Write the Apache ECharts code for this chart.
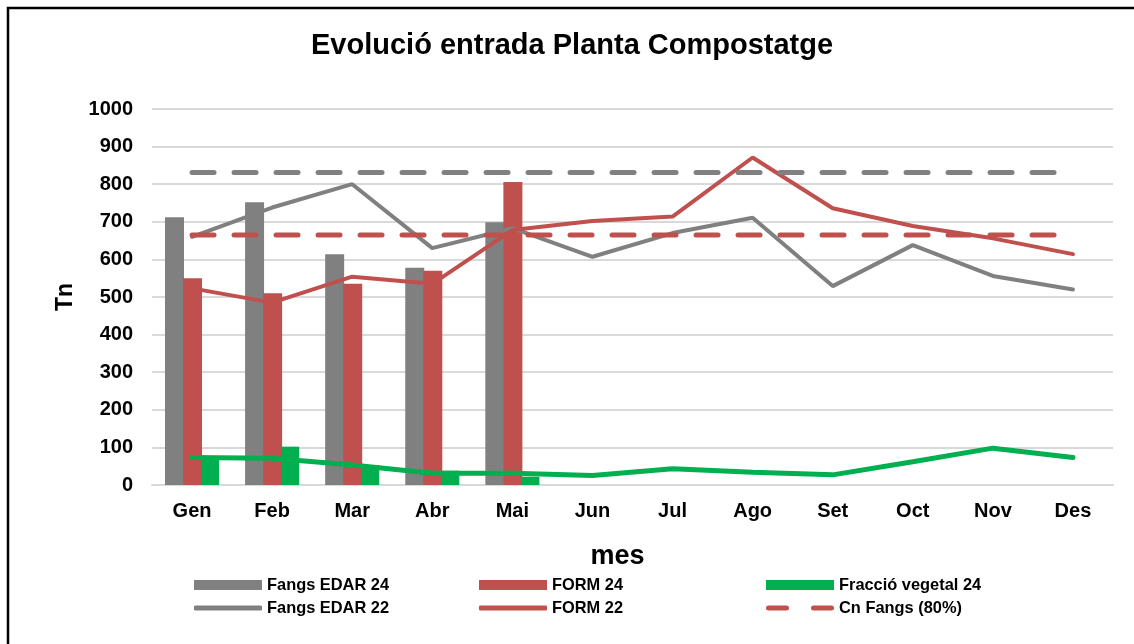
<!DOCTYPE html>
<html>
<head>
<meta charset="utf-8">
<title>Evolució entrada Planta Compostatge</title>
<script src="https://cdn.jsdelivr.net/npm/echarts@6/dist/echarts.min.js"></script>
<style>
    html, body { margin: 0; padding: 0; background: #fff; }
    #chart { width: 1134px; height: 644px; }
</style>
</head>
<body>
<div id="chart"></div>
<script>
    // mesos
    let months = ['Gen', 'Feb', 'Mar', 'Abr', 'Mai', 'Jun', 'Jul', 'Ago', 'Set', 'Oct', 'Nov', 'Des'];
    let yTicks = [0, 100, 200, 300, 400, 500, 600, 700, 800, 900, 1000];

    // 2024 (barres)
    let fangsEdar24 = [712, 752, 614, 578, 699];
    let form24 = [550, 510, 535, 570, 806];
    let fraccioVegetal24 = [70, 102, 53, 38, 22];

    // 2022 (linies)
    let fangsEdar22 = [660, 738, 800, 630, 683, 607, 670, 711, 529, 638, 556, 520];
    let form22 = [523, 485, 554, 535, 678, 702, 714, 871, 736, 689, 656, 614];
    let fraccioVegetal22 = [73, 71, 53, 31, 31, 25, 43, 34, 27, 62, 98, 73];

    // capacitats
    let cnFangs = [665, 665, 665, 665, 665, 665, 665, 665, 665, 665, 665, 665];
    let cnForm = [831, 831, 831, 831, 831, 831, 831, 831, 831, 831, 831, 831];

    let grey = '#808080';
    let red = '#c0504d';
    let green = '#00b050';
    let font = 'Liberation Sans, Arial, sans-serif';

    let chart = echarts.init(document.getElementById('chart'));

    function legendItem(name, left, top, icon, h) {
        return {
            data: [name],
            left: left,
            top: top,
            icon: icon,
            itemWidth: 68,
            itemHeight: h,
            selectedMode: false,
            textStyle: { fontFamily: font, fontWeight: 'bold', fontSize: 16.4, color: '#000' }
        };
    }

    let dashIcon = 'path://M2.5,0h18a2.5,2.5 0 0 1 0,5h-18a2.5,2.5 0 0 1 0,-5z M47.5,0h18a2.5,2.5 0 0 1 0,5h-18a2.5,2.5 0 0 1 0,-5z';

    let option = {
        backgroundColor: '#fff',
        animation: false,
        title: {
            text: 'Evolució entrada Planta Compostatge',
            left: 306,
            top: 26,
            textStyle: { fontFamily: font, fontWeight: 'bold', fontSize: 29, color: '#000' }
        },
        legend: [
            legendItem('Fangs EDAR 24', 189, 572, 'rect', 10),
            legendItem('FORM 24', 474, 572, 'rect', 10),
            legendItem('Fracció vegetal 24', 761, 572, 'rect', 10),
            legendItem('Fangs EDAR 22', 189, 595, 'roundRect', 5),
            legendItem('FORM 22', 474, 595, 'roundRect', 5),
            legendItem('Cn Fangs (80%)', 761, 595, dashIcon, 5)
        ],
        grid: { left: 152, right: 21, top: 109, bottom: 159 },
        xAxis: {
            type: 'category',
            data: months,
            name: 'mes',
            nameLocation: 'middle',
            nameGap: 58,
            nameTextStyle: { fontFamily: font, fontWeight: 'bold', fontSize: 27, color: '#000', padding: [0, 30, 0, 0] },
            axisLine: { lineStyle: { color: '#d9d9d9', width: 2 } },
            axisTick: { show: false },
            axisLabel: { fontFamily: font, fontWeight: 'bold', fontSize: 20, color: '#000', margin: 16 }
        },
        yAxis: {
            type: 'value',
            min: yTicks[0],
            max: yTicks[yTicks.length - 1],
            interval: 100,
            name: 'Tn',
            nameLocation: 'middle',
            nameGap: 75,
            nameTextStyle: { fontFamily: font, fontWeight: 'bold', fontSize: 23, color: '#000' },
            axisLine: { show: false },
            axisTick: { show: false },
            axisLabel: {
                fontFamily: font, fontWeight: 'bold', fontSize: 20, color: '#000', margin: 19,
                formatter: function (v) { return String(v); }
            },
            splitLine: { lineStyle: { color: '#d9d9d9', width: 2 } }
        },
        series: [
            { name: 'Fangs EDAR 24', type: 'bar', data: fangsEdar24, barWidth: 19, barGap: '-5%',
                itemStyle: { color: grey } },
            { name: 'FORM 24', type: 'bar', data: form24, barWidth: 19, barGap: '-5%',
                itemStyle: { color: red } },
            { name: 'Fracció vegetal 24', type: 'bar', data: fraccioVegetal24, barWidth: 18, barGap: '-5%',
                itemStyle: { color: green } },
            { name: 'Fangs EDAR 22', type: 'line', data: fangsEdar22, symbol: 'none', z: 3,
                lineStyle: { color: grey, width: 4, cap: 'round' }, itemStyle: { color: grey } },
            { name: 'FORM 22', type: 'line', data: form22, symbol: 'none', z: 3,
                lineStyle: { color: red, width: 4, cap: 'round' }, itemStyle: { color: red } },
            { name: 'Fracció vegetal 22', type: 'line', data: fraccioVegetal22, symbol: 'none', z: 3,
                lineStyle: { color: green, width: 5, cap: 'round' }, itemStyle: { color: green } },
            { name: 'Cn Fangs (80%)', type: 'line', data: cnFangs, symbol: 'none', z: 3,
                lineStyle: { color: red, width: 5, type: [22, 20], cap: 'round' }, itemStyle: { color: red } },
            { name: 'Cn FORM', type: 'line', data: cnForm, symbol: 'none', z: 3,
                lineStyle: { color: grey, width: 5, type: [22, 20], cap: 'round' }, itemStyle: { color: grey } }
        ],
        graphic: [{
            type: 'rect',
            shape: { x: 8, y: 8, width: 1300, height: 800 },
            style: { fill: 'none', stroke: '#000', lineWidth: 2.5 },
            silent: true
        }]
    };

    chart.setOption(option);
</script>
</body>
</html>
